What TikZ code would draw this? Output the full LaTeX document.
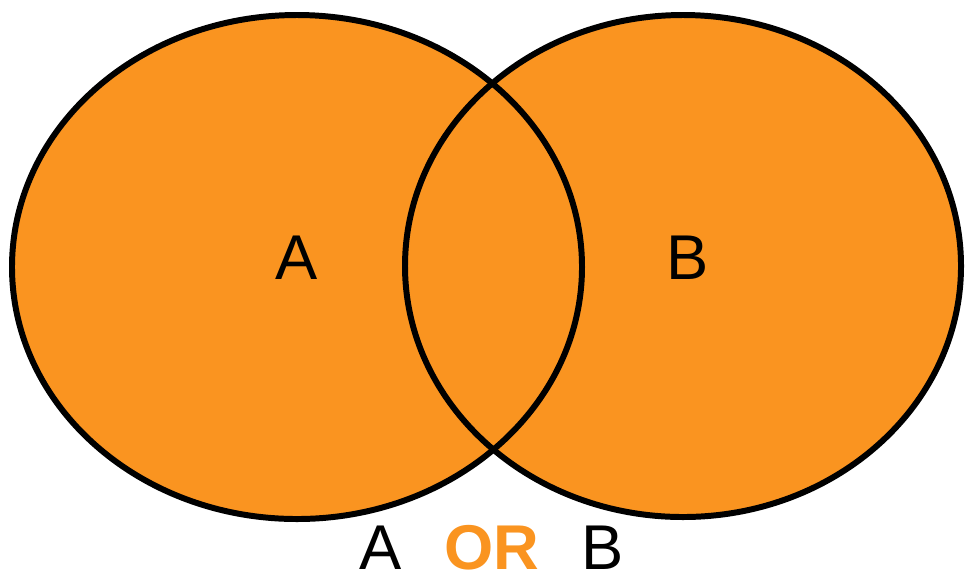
\documentclass[tikz,border=0pt]{standalone}
\usepackage{fontspec}
\setmainfont{Liberation Sans}
\definecolor{setorange}{RGB}{250,148,32}

\begin{document}
\begin{tikzpicture}[
    setfill/.style={fill=setorange},
    setline/.style={draw=black,line width=1.7pt},
    setlabel/.style={anchor=base,inner sep=0pt,font=\fontsize{18}{20}\selectfont}
  ]
        \useasboundingbox (0,0) rectangle (9.65,5.79);

        % Sets A and B, filled first
        \fill[setfill] (2.97,3.12) ellipse [x radius=2.85,y radius=2.52];
        \fill[setfill] (6.83,3.13) ellipse [x radius=2.78,y radius=2.51];

        % Outlines on top
        \draw[setline] (2.97,3.12) ellipse [x radius=2.85,y radius=2.52];
        \draw[setline] (6.83,3.13) ellipse [x radius=2.78,y radius=2.51];

        % Set names
        \node[setlabel] (labelA) at (2.97,3.00) {A};
        \node[setlabel] (labelB) at (6.88,3.00) {B};

        % Caption
        \node[setlabel] (capA) at (3.81,0.10) {A};
        \node[setlabel,text=setorange,font=\fontsize{18}{20}\selectfont\bfseries] (capOr) at (4.92,0.10) {OR};
        \node[setlabel] (capB) at (6.03,0.10) {B};
      \end{tikzpicture}
\end{document}
